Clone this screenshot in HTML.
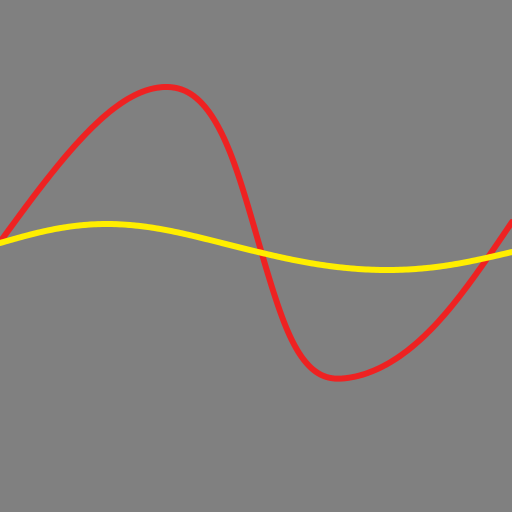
<!DOCTYPE html>
<html><head><meta charset="utf-8"><style>
html,body{margin:0;padding:0;background:#808080;}
svg{display:block;}
</style></head><body>
<svg id="chart" width="512" height="512" viewBox="0 0 512 512">
<rect x="0" y="0" width="512" height="512" fill="#808080"/>
</svg>
<script>
const redX = [0,16,32.5,45.5,50.6,56.1,67.8,85.9,100];
const redY = [0.14,1.18,1.69,0.96,0.12,-0.74,-1.22,-0.64,0.34];
const yellowX = [0,9.8,20.5,31.3,41,50.4,60.5,76.2,87.9,100];
const yellowY = [0.13,0.26,0.32,0.27,0.16,0.04,-0.07,-0.14,-0.09,0.04];

function xScale(t){ return t*5.12; }
function yScale(v){ return 256 - v*100; }
function spline(xs, ys){
  const n = xs.length, h=[], a=[], l=[1], mu=[0], z=[0], c=new Array(n).fill(0), b=[], d=[];
  for(let i=0;i<n-1;i++) h.push(xs[i+1]-xs[i]);
  for(let i=1;i<n-1;i++) a[i]=3/h[i]*(ys[i+1]-ys[i])-3/h[i-1]*(ys[i]-ys[i-1]);
  for(let i=1;i<n-1;i++){
    l[i]=2*(xs[i+1]-xs[i-1])-h[i-1]*mu[i-1];
    mu[i]=h[i]/l[i];
    z[i]=(a[i]-h[i-1]*z[i-1])/l[i];
  }
  for(let j=n-2;j>=0;j--){
    c[j]=(j===0?0:z[j])-mu[j]*c[j+1];
    if(j===0) c[0]=0;
    b[j]=(ys[j+1]-ys[j])/h[j]-h[j]*(c[j+1]+2*c[j])/3;
    d[j]=(c[j+1]-c[j])/(3*h[j]);
  }
  return function(x){
    let i=0; while(i<n-2 && x>xs[i+1]) i++;
    const dx=x-xs[i];
    return ys[i]+b[i]*dx+c[i]*dx*dx+d[i]*dx*dx*dx;
  };
}
function pathFor(xs, ys){
  const f = spline(xs, ys);
  let d='';
  for(let px=0; px<=512; px+=2){
    const t=px/5.12;
    d += (px===0?'M':' L')+xScale(t).toFixed(2)+','+yScale(f(t)).toFixed(2);
  }
  return d;
}
const svg = document.getElementById('chart');
function addLine(xs, ys, color, name){
  const el = document.createElementNS('http://www.w3.org/2000/svg','path');
  el.setAttribute('d', pathFor(xs, ys));
  el.setAttribute('fill','none');
  el.setAttribute('stroke',color);
  el.setAttribute('stroke-width','6');
  el.setAttribute('stroke-linecap','round');
  el.setAttribute('stroke-linejoin','round');
  
  
  svg.appendChild(el);
}
addLine(redX, redY, '#ee2222', 'red-series-line');
addLine(yellowX, yellowY, '#ffee00', 'yellow-series-line');
</script>
</body></html>
